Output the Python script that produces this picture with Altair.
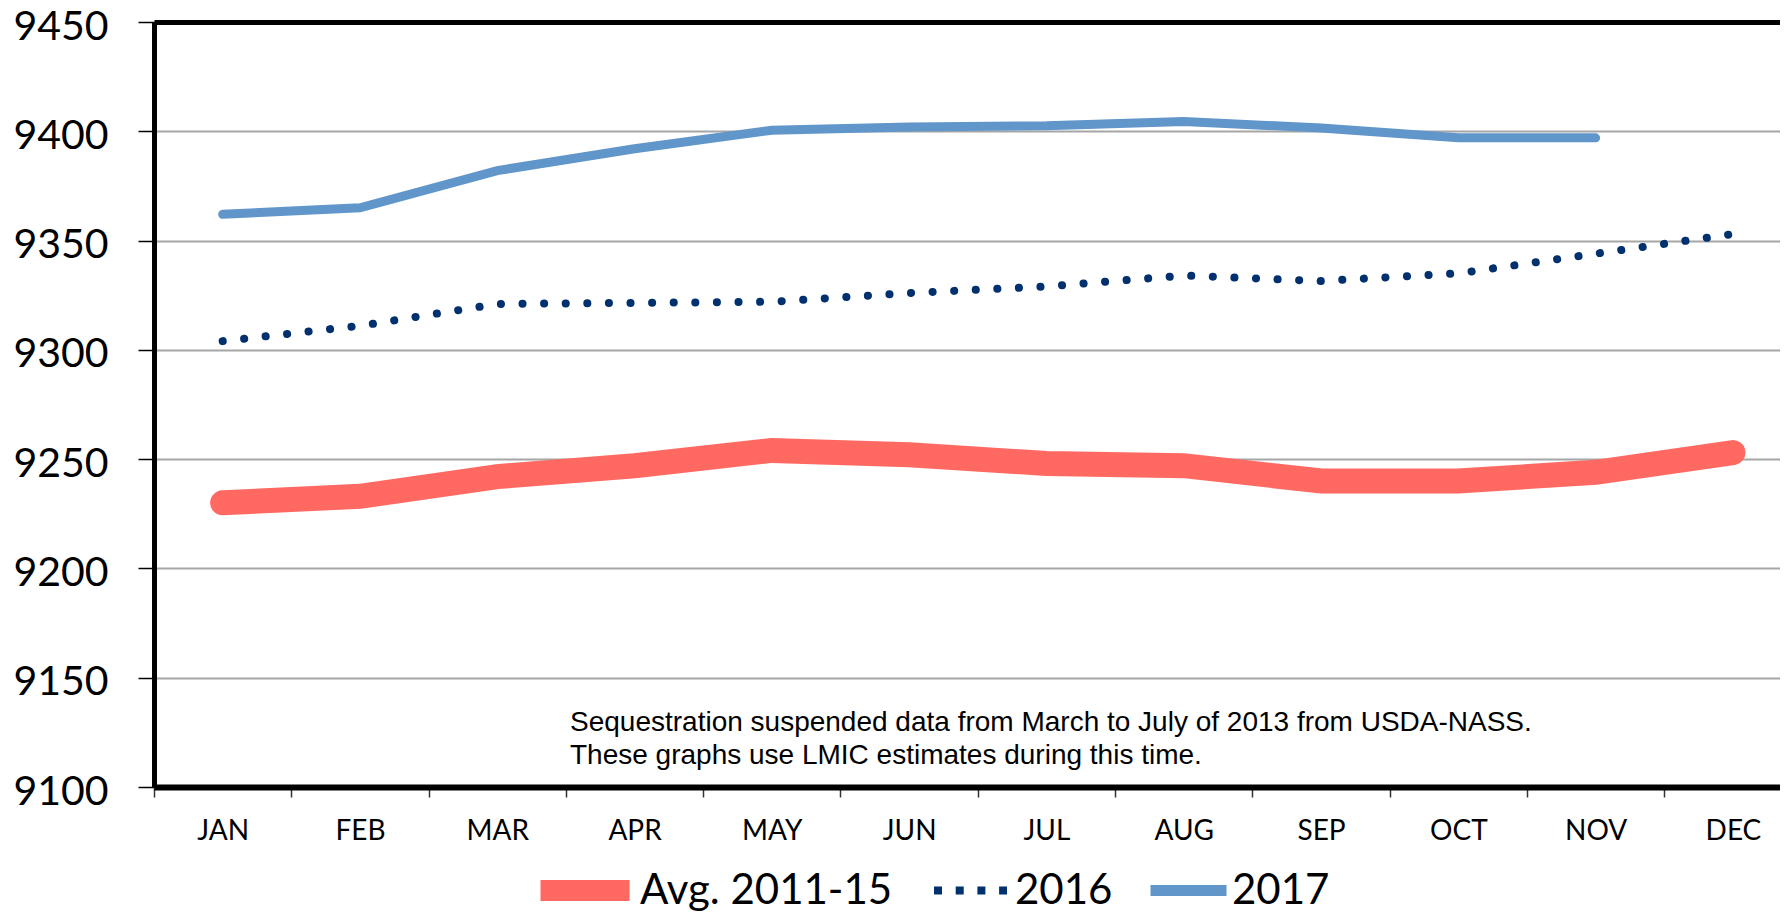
import altair as alt
import pandas as pd

MONTHS = ["JAN", "FEB", "MAR", "APR", "MAY", "JUN", "JUL", "AUG", "SEP", "OCT", "NOV", "DEC"]
AVG_2011_15 = [9230, 9233, 9242, 9247, 9254, 9252, 9248, 9247, 9240, 9240, 9244, 9253]
Y2016 = [9304, 9311, 9321, 9321.5, 9322, 9326, 9329, 9334, 9331.5, 9335, 9344, 9353]
Y2017 = [9362, 9365, 9382, 9392, 9400.5, 9402, 9402.5, 9404.5, 9401.5, 9397, 9397]
SERIES = ["Avg. 2011-15", "2016", "2017"]
COLORS = ["#FF6961", "#00306E", "#6096C9"]
Y_TICKS = [9100, 9150, 9200, 9250, 9300, 9350, 9400, 9450]
NOTE_LINES = [
    "Sequestration suspended data from March to July of 2013 from USDA-NASS.",
    "These graphs use LMIC estimates during this time.",
]

# line styles per series
LINE_WIDTH = [25, 8, 9]
LINE_DASH = [None, [0.1, 21.5], None]
# legend styling / placement per series
LEG_X = [376, 776, 991]
LEG_Y = [813.5, 828, 825]
LEG_SIZE = [7921, 5329, 5776]
LEG_SW = [21, 8, 11]
LEG_DASH = [None, [8, 13.7], None]
LEG_OFFSET = [0, 4, 0]

x_scale = alt.Scale(type="band", domain=MONTHS, range=[0, 1647.6], paddingInner=0, paddingOuter=0)
y_scale = alt.Scale(domain=[9100, 9450], nice=False, zero=False)

bottom_axis = alt.Axis(
    title=None, orient="bottom", labelAngle=0, labelFont="Lato", labelFontSize=28,
    labelColor="black", labelPadding=20, tickSize=10, tickColor="#333333", tickWidth=1.5,
    tickBand="extent", domainColor="black", domainWidth=6, grid=False,
)
top_axis = alt.Axis(
    title=None, orient="top", labels=False, ticks=False, domainColor="black",
    domainWidth=5, grid=False,
)
y_axis = alt.Axis(
    title=None, values=Y_TICKS, format="d", labelFont="Lato", labelFontSize=41,
    labelColor="black", labelPadding=30, labelOffset=5, tickSize=16, tickColor="black",
    tickWidth=1.5, domainColor="black", domainWidth=5, gridColor="#A6A6A6", gridWidth=2,
    grid=True,
)

layers = []
for k, (name, vals) in enumerate(zip(SERIES, [AVG_2011_15, Y2016, Y2017])):
    sdf = pd.DataFrame({
        "month": MONTHS[: len(vals)],
        "idx": list(range(len(vals))),
        "value": vals,
        "series": [name] * len(vals),
    })
    leg_kwargs = dict(
        title=None, orient="none", legendX=LEG_X[k], legendY=LEG_Y[k],
        direction="horizontal", symbolType="stroke", symbolSize=LEG_SIZE[k],
        symbolStrokeWidth=LEG_SW[k], labelFont="Lato", labelFontSize=42,
        labelColor="black", labelOffset=LEG_OFFSET[k], padding=0, labelLimit=500,
    )
    if LEG_DASH[k] is not None:
        leg_kwargs["symbolDash"] = LEG_DASH[k]
    mark_kwargs = dict(strokeCap="round", strokeJoin="miter", strokeWidth=LINE_WIDTH[k])
    if LINE_DASH[k] is not None:
        mark_kwargs["strokeDash"] = LINE_DASH[k]
    layer = alt.Chart(sdf).mark_line(**mark_kwargs).encode(
        x=alt.X("month:N", sort=MONTHS, bandPosition=0.5, scale=x_scale,
                axis=bottom_axis if k == 0 else None),
        y=alt.Y("value:Q", scale=y_scale, axis=y_axis),
        color=alt.Color("series:N", scale=alt.Scale(domain=[name], range=[COLORS[k]]),
                        legend=alt.Legend(**leg_kwargs)),
        order=alt.Order("idx:Q"),
    )
    layers.append(layer)

frame_df = pd.DataFrame({"month": MONTHS, "value": AVG_2011_15})
top_frame = alt.Chart(frame_df).mark_line(opacity=0).encode(
    x=alt.X("month:N", sort=MONTHS, bandPosition=0.5, axis=top_axis),
    y=alt.Y("value:Q", axis=y_axis),
)

note = alt.Chart(pd.DataFrame({"k": [0]})).mark_text(
    text=NOTE_LINES, align="left", baseline="alphabetic", font="Liberation Sans",
    fontSize=28, lineHeight=32.5, color="black",
).encode(x=alt.value(416), y=alt.value(709))

chart = (
    alt.layer(*layers, top_frame, note)
    .resolve_axis(x="independent")
    .resolve_scale(color="independent")
    .properties(
        width=1626, height=765,
        padding={"left": 146, "top": 14, "right": 0, "bottom": 127},
        autosize=alt.AutoSizeParams(type="none"),
        background="white",
    )
    .configure_view(stroke=None)
)

chart.save("out.html", embed_options={"renderer": "svg", "actions": False})
